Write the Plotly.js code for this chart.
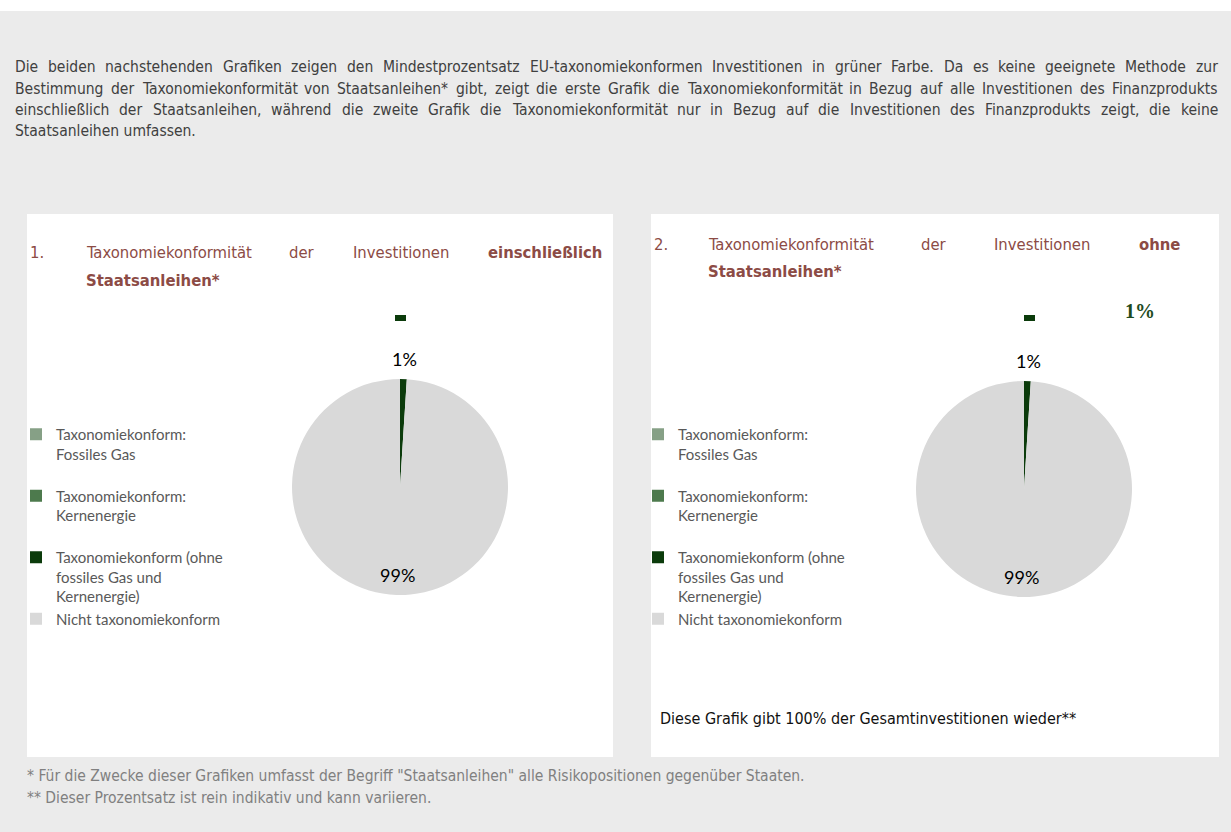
<!DOCTYPE html>
<html><head><meta charset="utf-8">
<script src="https://cdn.plot.ly/plotly-3.0.1.min.js"></script>
<style>html,body{margin:0;padding:0;background:#ebebeb;} #chart{width:1231px;height:832px;}</style>
</head><body><div id="chart"></div>
<script>
// ---------- data ----------
const sliceLabels = ['Taxonomiekonform:<br>Fossiles Gas', 'Taxonomiekonform:<br>Kernenergie', 'Taxonomiekonform (ohne<br>fossiles Gas und<br>Kernenergie)', 'Nicht taxonomiekonform'];
const valuesInclSov = [0, 0, 1, 99];
const valuesExclSov = [0, 0, 1, 99];
const sliceColors = ['#86a086', '#4d7a4d', '#0b3b0b', '#d9d9d9'];
const sliceLabelMode = ['none', 'none', 'outside', 'inside'];
const headlineValueExcl = '1%';
const descLines = [
  'Die beiden nachstehenden Grafiken zeigen den Mindestprozentsatz EU-taxonomiekonformen Investitionen in grüner Farbe. Da es keine geeignete Methode zur',
  'Bestimmung der Taxonomiekonformität von Staatsanleihen* gibt, zeigt die erste Grafik die Taxonomiekonformität in Bezug auf alle Investitionen des Finanzprodukts',
  'einschließlich der Staatsanleihen, während die zweite Grafik die Taxonomiekonformität nur in Bezug auf die Investitionen des Finanzprodukts zeigt, die keine',
  'Staatsanleihen umfassen.'
];
const title1 = {num: '1.', words: 'Taxonomiekonformität der Investitionen', bold: 'einschließlich', line2: 'Staatsanleihen*'};
const title2 = {num: '2.', words: 'Taxonomiekonformität der Investitionen', bold: 'ohne', line2: 'Staatsanleihen*'};
const note2 = 'Diese Grafik gibt 100% der Gesamtinvestitionen wieder**';
const footnotes = ['* Für die Zwecke dieser Grafiken umfasst der Begriff "Staatsanleihen" alle Risikopositionen gegenüber Staaten.',
                   '** Dieser Prozentsatz ist rein indikativ und kann variieren.'];

// ---------- helpers ----------
const W = 1231, H = 832;
const fx = px => px / W, fy = py => 1 - py / H;
const NARROW = '"DejaVu Sans Condensed", "DejaVu Sans", sans-serif';
const ctx = document.createElement('canvas').getContext('2d');
function measure(t, size, bold) { ctx.font = (bold ? 'bold ' : '') + size + 'px ' + NARROW; return ctx.measureText(t).width; }
const annotations = [];
function addText(text, x, y, font, anchor) {
  annotations.push({text: text, x: fx(x), y: fy(y), xref: 'paper', yref: 'paper', xanchor: anchor || 'left', yanchor: 'middle',
    showarrow: false, borderpad: 0, borderwidth: 0, font: font});
}
function justify(words, x0, x1, y, size, color) {
  const ws = words.map(w => measure(w.t, size, w.bold));
  const total = ws.reduce((a, b) => a + b, 0);
  const gap = (x1 - x0 - total) / (words.length - 1);
  let x = x0;
  words.forEach((w, i) => {
    addText(w.bold ? '<b>' + w.t + '</b>' : w.t, x, y, {family: NARROW, size: size, color: color});
    x += ws[i] + gap;
  });
}
const plain = s => s.split(' ').map(t => ({t: t, bold: false}));

// description
const descSize = 15.5, descColor = '#404040';
const descY = [67, 89, 110, 131];
descLines.forEach((l, i) => {
  if (i < 3) justify(plain(l), 15, 1218, descY[i], descSize, descColor);
  else addText(l, 15, descY[i], {family: NARROW, size: descSize, color: descColor});
});

// chart titles
const tColor = '#8c4b45', tSize = 16.5;
function drawTitle(t, numX, x0, x1, y1, y2) {
  addText(t.num, numX, y1, {family: NARROW, size: tSize, color: tColor});
  justify(plain(t.words).concat([{t: t.bold, bold: true}]), x0, x1, y1, tSize, tColor);
  addText('<b>' + t.line2 + '</b>', x0, y2, {family: NARROW, size: tSize, color: tColor});
}
drawTitle(title1, 30, 86, 602, 252, 280);
drawTitle(title2, 654, 708, 1180, 244, 272);

// notes
addText(note2, 660, 718, {family: NARROW, size: 16, color: '#111111'});
addText(footnotes[0], 27, 776, {family: NARROW, size: descSize, color: '#808080'});
addText(footnotes[1], 27, 798, {family: NARROW, size: descSize, color: '#808080'});
addText('<b>' + headlineValueExcl + '</b>', 1140, 311, {family: 'Liberation Serif', size: 20, color: '#1e4b1e'}, 'center');

// ---------- pies ----------
const R = 108;
const pies = [
  {values: valuesInclSov, cx: 400, cy: 487, legend: 'legend', tag: ''},
  {values: valuesExclSov, cx: 1024, cy: 489, legend: 'legend2', tag: '\u200b'}
];

// percentage labels placed at each slice's mid-angle (clockwise from 12 o'clock)
pies.forEach(p => {
  const total = p.values.reduce((a, b) => a + b, 0);
  let cum = 0;
  p.values.forEach((v, i) => {
    const mid = 2 * Math.PI * (cum + v / 2) / total;
    cum += v;
    if (sliceLabelMode[i] === 'none') return;
    const rr = sliceLabelMode[i] === 'outside' ? R + 20 : R * 0.815;
    const pct = Math.round(100 * v / total) + '%';
    addText(pct, p.cx + rr * Math.sin(mid), p.cy - rr * Math.cos(mid), {family: 'Lato', size: 18, color: '#000000'}, 'center');
  });
});

const shapes = [
  {type: 'rect', xref: 'paper', yref: 'paper', x0: 0, x1: 1, y0: fy(11), y1: 1, fillcolor: '#ffffff', line: {width: 0}, layer: 'below'},
  {type: 'rect', xref: 'paper', yref: 'paper', x0: fx(27), x1: fx(613), y0: fy(757), y1: fy(214), fillcolor: '#ffffff', line: {width: 0}, layer: 'below'},
  {type: 'rect', xref: 'paper', yref: 'paper', x0: fx(651), x1: fx(1219), y0: fy(757), y1: fy(214), fillcolor: '#ffffff', line: {width: 0}, layer: 'below'},
  {type: 'rect', xref: 'paper', yref: 'paper', x0: fx(395), x1: fx(406), y0: fy(321), y1: fy(315), fillcolor: sliceColors[2], line: {width: 0}},
  {type: 'rect', xref: 'paper', yref: 'paper', x0: fx(1024), x1: fx(1035), y0: fy(321), y1: fy(315), fillcolor: sliceColors[2], line: {width: 0}}
];

// legend labels: spacer line for the 2-line entries; invisible tag keeps the second legend's entries distinct
const data = pies.map(p => ({
  type: 'pie', labels: sliceLabels.map((l, i) => (i < 2 ? l + '<br>\u00a0' : l) + p.tag),
  values: p.values, sort: false, direction: 'clockwise', rotation: 0,
  marker: {colors: sliceColors, line: {width: 0}}, textinfo: 'none', hoverinfo: 'none', legend: p.legend,
  domain: {x: [fx(p.cx - R), fx(p.cx + R)], y: [fy(p.cy + R), fy(p.cy - R)]}
}));

const legendBase = {xanchor: 'left', yanchor: 'top', bgcolor: 'rgba(0,0,0,0)', valign: 'top', traceorder: 'normal',
  font: {family: 'Lato', size: 15, color: '#595959'}, itemclick: false, itemdoubleclick: false};
const layout = {
  width: W, height: H, margin: {l: 0, r: 0, t: 0, b: 0}, paper_bgcolor: '#ebebeb', plot_bgcolor: '#ebebeb',
  showlegend: true,
  legend: Object.assign({x: fx(16), y: fy(418)}, legendBase),
  legend2: Object.assign({x: fx(638), y: fy(418)}, legendBase),
  annotations: annotations, shapes: shapes
};
Plotly.newPlot('chart', data, layout, {displayModeBar: false, staticPlot: true});
</script></body></html>
